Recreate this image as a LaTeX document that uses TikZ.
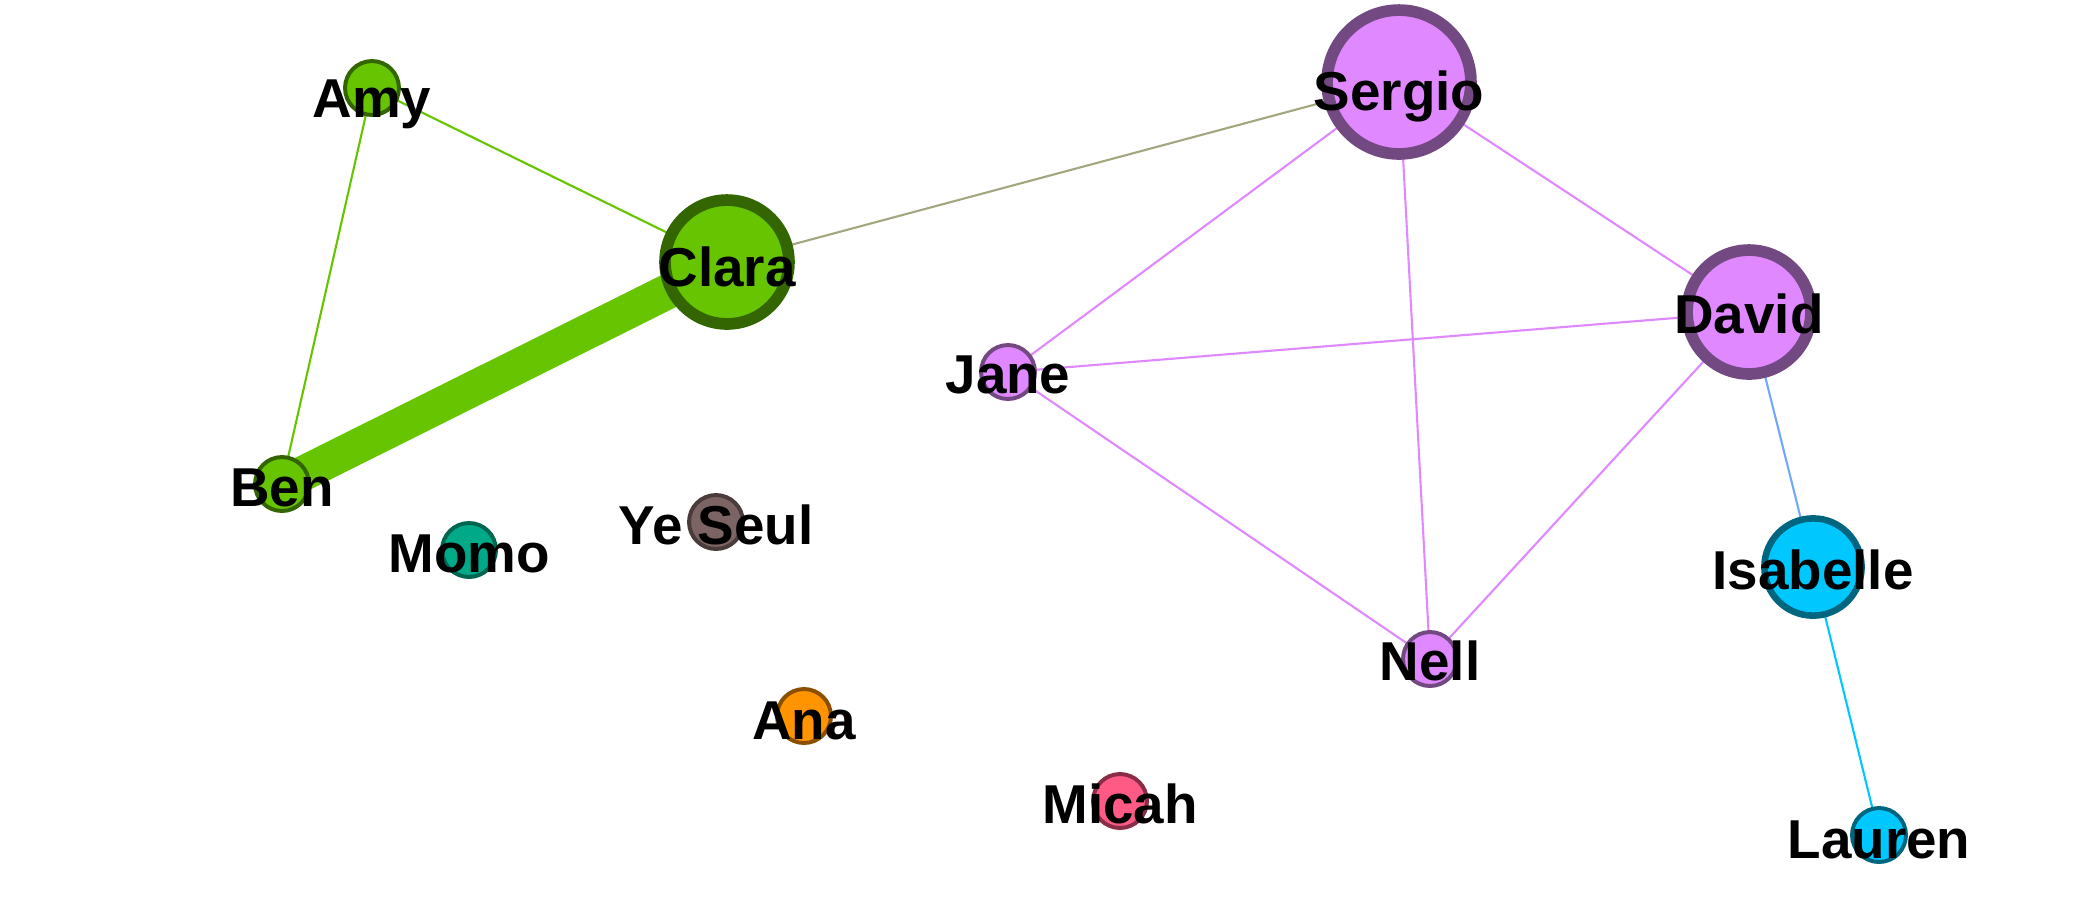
\documentclass[tikz,border=0pt]{standalone}
\usepackage{fontspec}
\setmainfont{Liberation Sans}
\usetikzlibrary{backgrounds,calc}
\definecolor{grn}{HTML}{66C400}
\definecolor{grnD}{HTML}{336600}
\definecolor{pur}{HTML}{E088FF}
\definecolor{purD}{HTML}{734982}
\definecolor{cyn}{HTML}{00C8FF}
\definecolor{cynD}{HTML}{006680}
\definecolor{teal}{HTML}{00AA88}
\definecolor{tealD}{HTML}{006650}
\definecolor{brn}{HTML}{7D6464}
\definecolor{brnD}{HTML}{4B3C3C}
\definecolor{org}{HTML}{FF9300}
\definecolor{orgD}{HTML}{8A5000}
\definecolor{pnk}{HTML}{FF5A85}
\definecolor{pnkD}{HTML}{8A2E48}
\definecolor{olv}{HTML}{A3A67F}
\definecolor{blu}{HTML}{70A8FF}
\begin{document}
\begin{tikzpicture}[x=0.0075cm,y=-0.0075cm,
  vtx/.style={circle,inner sep=0pt,outer sep=0pt},
  smallv/.style={vtx,minimum size=0.405cm,line width=0.85pt},
  bigv/.style={vtx,minimum size=0.93cm,line width=2.5pt},
  hugev/.style={vtx,minimum size=1.08cm,line width=2.5pt},
  midv/.style={vtx,minimum size=0.73cm,line width=1.4pt},
  gv/.style={fill=grn,draw=grnD},
  pv/.style={fill=pur,draw=purD},
  cv/.style={fill=cyn,draw=cynD},
  lbl/.style={font=\fontsize{11.7}{14}\selectfont\bfseries,inner sep=0pt,anchor=base},
  thinedge/.style={line width=0.45pt}
]
\useasboundingbox (0,0) rectangle (2074,904);
% vertices
\node[smallv,gv] (amy) at (372,88) {};
\node[bigv,gv] (clara) at (727,262) {};
\node[smallv,gv] (ben) at (282,484) {};
\node[smallv,fill=teal,draw=tealD] (momo) at (469,550) {};
\node[smallv,fill=brn,draw=brnD] (yeseul) at (716,522) {};
\node[smallv,fill=org,draw=orgD] (ana) at (804,716) {};
\node[smallv,fill=pnk,draw=pnkD] (micah) at (1120,801) {};
\node[smallv,pv] (jane) at (1008,372) {};
\node[smallv,pv] (nell) at (1430,659) {};
\node[hugev,pv] (sergio) at (1399,82) {};
\node[bigv,pv] (david) at (1749,312) {};
\node[midv,cv] (isabelle) at (1813,567) {};
\node[smallv,cv] (lauren) at (1879,835) {};
% labels
\node[lbl] (amyL) at ($(amy.center)+(0,29)$) {Amy};
\node[lbl] (claraL) at ($(clara.center)+(0,24)$) {Clara};
\node[lbl] (benL) at ($(ben.center)+(0,22)$) {Ben};
\node[lbl] (momoL) at ($(momo.center)+(0,22)$) {Momo};
\node[lbl] (yeseulL) at ($(yeseul.center)+(0,22)$) {Ye Seul};
\node[lbl] (anaL) at ($(ana.center)+(0,23)$) {Ana};
\node[lbl] (micahL) at ($(micah.center)+(0,22)$) {Micah};
\node[lbl] (janeL) at ($(jane.center)+(0,21)$) {Jane};
\node[lbl] (nellL) at ($(nell.center)+(0,21)$) {Nell};
\node[lbl] (sergioL) at ($(sergio.center)+(0,28)$) {Sergio};
\node[lbl] (davidL) at ($(david.center)+(0,21)$) {David};
\node[lbl] (isabelleL) at ($(isabelle.center)+(0,22)$) {Isabelle};
\node[lbl] (laurenL) at ($(lauren.center)+(0,23)$) {Lauren};
% edges
\begin{scope}[on background layer]
\draw[grn,line width=7.5pt] (ben.center) -- (clara.center);
\draw[grn,thinedge] (amy.center) -- (clara.center);
\draw[grn,thinedge] (amy.center) -- (ben.center);
\draw[olv,thinedge] (clara.center) -- (sergio.center);
\draw[pur,thinedge] (sergio.center) -- (jane.center);
\draw[pur,thinedge] (sergio.center) -- (nell.center);
\draw[pur,thinedge] (sergio.center) -- (david.center);
\draw[pur,thinedge] (jane.center) -- (david.center);
\draw[pur,thinedge] (jane.center) -- (nell.center);
\draw[pur,thinedge] (david.center) -- (nell.center);
\draw[blu,thinedge] (david.center) -- (isabelle.center);
\draw[cyn,thinedge] (isabelle.center) -- (lauren.center);
\end{scope}
\end{tikzpicture}
\end{document}
